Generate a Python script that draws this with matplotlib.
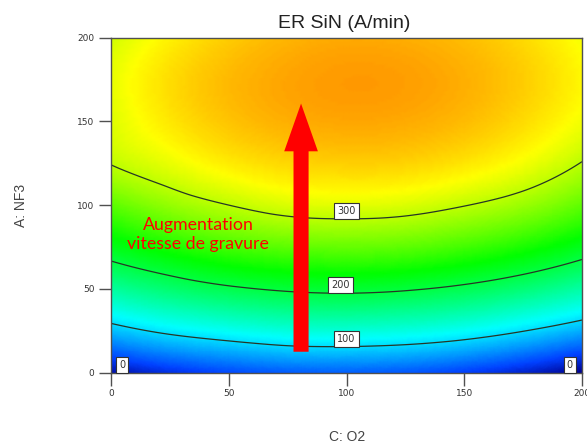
import matplotlib
matplotlib.use('Agg')
import matplotlib.pyplot as plt
import numpy as np
from matplotlib.tri import Triangulation, UniformTriRefiner
from matplotlib.colors import LinearSegmentedColormap, Normalize

# factor levels (grid)
o2 = [0, 25, 50, 75, 100, 125, 150, 175, 200]
nf3 = [0, 25, 50, 75, 100, 125, 150, 175, 200]

# ER SiN (A/min), one row per NF3 level, columns follow o2
er = [
    [-1, 20, 34, 42, 44, 40, 29, 12, -11],
    [86, 107, 120, 130, 132, 128, 118, 101, 79],
    [159, 180, 195, 204, 207, 203, 193, 177, 155],
    [218, 239, 255, 264, 267, 264, 254, 239, 217],
    [263, 285, 300, 311, 314, 311, 301, 287, 265],
    [301, 317, 333, 343, 347, 345, 336, 321, 299],
    [312, 335, 352, 362, 366, 364, 356, 341, 320],
    [316, 340, 357, 367, 372, 370, 362, 348, 327],
    [307, 330, 348, 359, 364, 362, 355, 341, 321],
]

contour_levels = [100, 200, 300]
# label box positions (O2, NF3) for each contour level
label_pos = [(100, 20.1), (97.5, 52.1), (100, 96.6)]
corner_labels = [(4.8, 4.6), (194.8, 4.6)]

arrow_x = 80.7
arrow_y0 = 12.5
arrow_y1 = 160.6
note_text = "Augmentation\nvitesse de gravure"
note_pos = (37, 82.3)

title = "ER SiN (A/min)"
xlabel = "C: O2"
ylabel = "A: NF3"

# colour ramp similar to Design-Expert
vmin, vmax = -11, 445
stops = [(-11, (0.0, 0.0, 0.55)), (30, (0.0, 0.25, 1.0)), (115, (0.0, 1.0, 1.0)),
         (230, (0.0, 1.0, 0.0)), (325, (1.0, 1.0, 0.0)), (445, (1.0, 0.0, 0.0))]
cmap = LinearSegmentedColormap.from_list(
    'de', [((v - vmin) / (vmax - vmin), c) for v, c in stops])
norm = Normalize(vmin=vmin, vmax=vmax)

fig = plt.figure(figsize=(5.87, 4.43), dpi=100)
ax = fig.add_axes([111 / 587, 1 - 372.7 / 443, 471 / 587, 335.2 / 443])

CC, AA = np.meshgrid(o2, nf3)
tri = Triangulation(CC.ravel().astype(float), AA.ravel().astype(float))
refiner = UniformTriRefiner(tri)
tri_f, z_f = refiner.refine_field(np.array(er, dtype=float).ravel(), subdiv=4)

ax.tripcolor(tri_f, z_f, cmap=cmap, norm=norm, shading='gouraud')
ax.tricontour(tri_f, z_f, levels=contour_levels, colors='#263626', linewidths=0.9)

box = dict(boxstyle='square,pad=0.3', facecolor='white', edgecolor='#333333', linewidth=0.8)
for lev, (x, y) in zip(contour_levels, label_pos):
    ax.text(x, y, str(lev), ha='center', va='center', fontsize=7,
            color='#333333', bbox=box, family='DejaVu Sans')
for x, y in corner_labels:
    ax.text(x, y, '0', ha='center', va='center', fontsize=7,
            color='#333333', bbox=box, family='DejaVu Sans')

ax.arrow(arrow_x, arrow_y0, 0, arrow_y1 - arrow_y0, width=6.4, head_width=14.3,
         head_length=28.5, length_includes_head=True, color='#ff0000', lw=0, zorder=5)
ax.text(note_pos[0], note_pos[1], note_text, ha='center', va='center', color='#ff0000',
        fontsize=12.8, family='Lato', linespacing=1.25, zorder=6)

ax.set_xlim(0, 200)
ax.set_ylim(0, 200)
ax.set_xticks([0, 50, 100, 150, 200])
ax.set_yticks([0, 50, 100, 150, 200])
ax.tick_params(direction='out', length=9, width=1, color='#505050',
               labelsize=6.5, labelcolor='#333333', pad=3)
for s in ax.spines.values():
    s.set_color('#505050')
    s.set_linewidth(1)

fig.text(344 / 587, 1 - 23 / 443, title, ha='center', va='center', fontsize=14,
         family='Liberation Sans', color='#222222')
fig.text(347 / 587, 1 - 437 / 443, xlabel, ha='center', va='center', fontsize=10,
         family='Liberation Sans', color='#444444')
fig.text(20.6 / 587, 1 - 205 / 443, ylabel, ha='center', va='center', fontsize=10,
         rotation=90, family='Liberation Sans', color='#444444')

fig.savefig('out.png', dpi=100)
